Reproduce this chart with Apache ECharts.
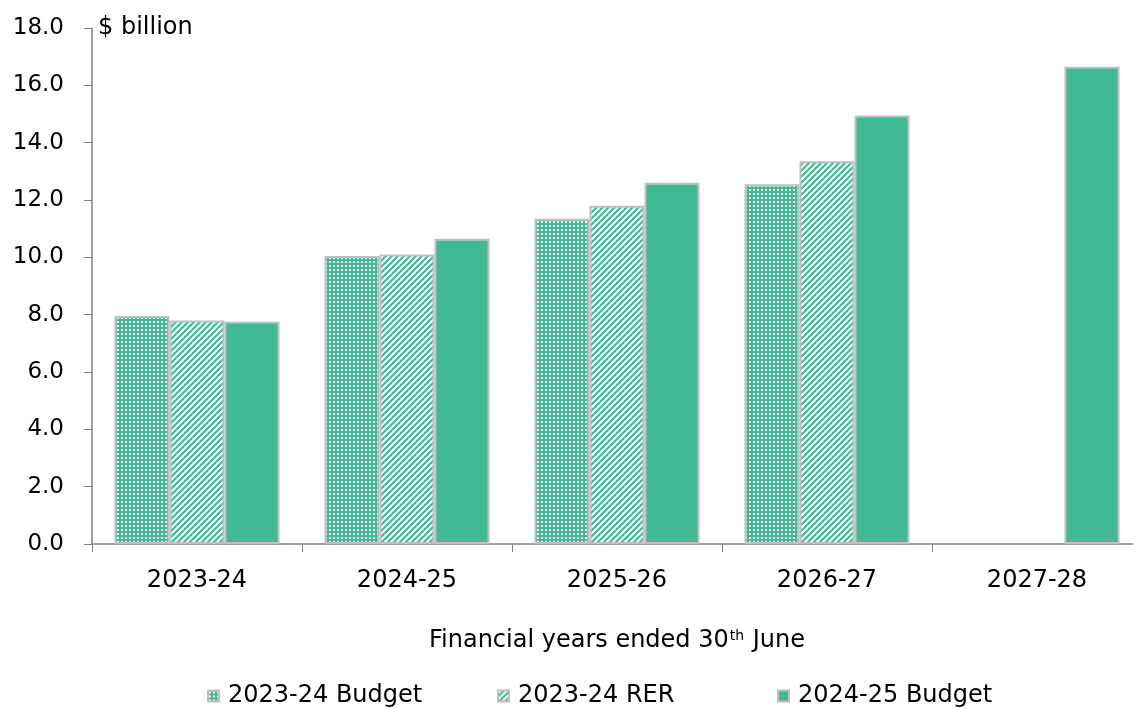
<!DOCTYPE html>
<html>
<head>
<meta charset="utf-8">
<script src="https://cdn.jsdelivr.net/npm/echarts@6/dist/echarts.min.js"></script>
<style>
  html, body { margin: 0; padding: 0; background: #fff; }
  #chart { width: 1133px; height: 709px; }
</style>
</head>
<body>
<div id="chart"></div>
<script>
// values, $ billion
const years = ['2023-24', '2024-25', '2025-26', '2026-27', '2027-28'];
const budget2324 = [7.95, 10.05, 11.35, 12.55, null];
const rer2324 = [7.8, 10.1, 11.8, 13.35, null];
const budget2425 = [7.75, 10.65, 12.6, 14.95, 16.65];
const seriesNames = ['2023-24 Budget', '2023-24 RER', '2024-25 Budget'];

const green = '#41B995';
const edge = '#BFBFBF';
const font = '"DejaVu Sans", sans-serif';

// little repeat tiles for the two patterned series
function dotTile() {
    const c = document.createElement('canvas');
    c.width = 4; c.height = 4;
    const ctx = c.getContext('2d');
    ctx.fillStyle = green;
    ctx.fillRect(0, 0, 4, 4);
    ctx.fillStyle = '#fff';
    ctx.fillRect(1, 1, 2, 2);
    return c;
}

function hatchTile() {
    const c = document.createElement('canvas');
    c.width = 6; c.height = 6;
    const ctx = c.getContext('2d');
    ctx.fillStyle = '#fff';
    ctx.fillRect(0, 0, 6, 6);
    ctx.strokeStyle = green;
    ctx.lineWidth = 2.2;
    ctx.beginPath();
    ctx.moveTo(-1, 7); ctx.lineTo(7, -1);
    ctx.moveTo(-4, 4); ctx.lineTo(4, -4);
    ctx.moveTo(2, 10); ctx.lineTo(10, 2);
    ctx.stroke();
    return c;
}

const fills = [
    {image: dotTile(), repeat: 'repeat'},
    {image: hatchTile(), repeat: 'repeat'},
    green
];

function bar(name, data, i) {
    return {
        name,
        type: 'bar',
        data,
        barWidth: 55,
        barGap: '0%',
        itemStyle: {color: fills[i], borderColor: edge, borderWidth: 2},
        emphasis: {disabled: true}
    };
}

// one legend per entry, so each sits in its own slot like the original
const legendLeft = [202, 492, 772];
const legends = seriesNames.map((n, i) => ({
    top: 679,
    left: legendLeft[i],
    itemWidth: 11,
    itemHeight: 11,
    icon: 'rect',
    textStyle: {fontSize: 24, color: '#000', fontFamily: font, padding: [0, 0, 0, 4]},
    data: [n]
}));

const chart = echarts.init(document.getElementById('chart'));
chart.setOption({
    animation: false,
    textStyle: {fontFamily: font},
    grid: {left: 92, top: 28, width: 1050, bottom: 165, outerBoundsMode: 'none'},
    legend: legends,
    xAxis: {
        type: 'category',
        data: years,
        axisLine: {lineStyle: {color: '#7F7F7F', width: 1.5}},
        axisTick: {show: true, length: 8, lineStyle: {color: '#7F7F7F'}},
        axisLabel: {fontSize: 24, color: '#000', margin: 25},
        name: '{a|Financial years ended 30}{s|th}{a| June}',
        nameLocation: 'middle',
        nameGap: 85,
        nameTextStyle: {
            rich: {
                a: {fontSize: 24, color: '#000', fontFamily: font},
                s: {fontSize: 14, color: '#000', fontFamily: font, padding: [0, 1, 10, 1]}
            }
        }
    },
    yAxis: {
        type: 'value',
        min: 0,
        max: 18,
        interval: 2,
        splitLine: {show: false},
        axisLine: {show: true, lineStyle: {color: '#7F7F7F', width: 1.5}},
        axisTick: {show: true, inside: false, length: 8, lineStyle: {color: '#7F7F7F'}},
        axisLabel: {
            fontSize: 23,
            color: '#000',
            margin: 28,
            formatter: v => v.toFixed(1)
        },
        name: '$ billion',
        nameLocation: 'end',
        nameGap: 0,
        nameTextStyle: {
            fontSize: 24,
            color: '#000',
            align: 'left',
            verticalAlign: 'middle',
            padding: [4, 0, 0, 6]
        }
    },
    series: [
        bar(seriesNames[0], budget2324, 0),
        bar(seriesNames[1], rer2324, 1),
        bar(seriesNames[2], budget2425, 2)
    ]
});
</script>
</body>
</html>
